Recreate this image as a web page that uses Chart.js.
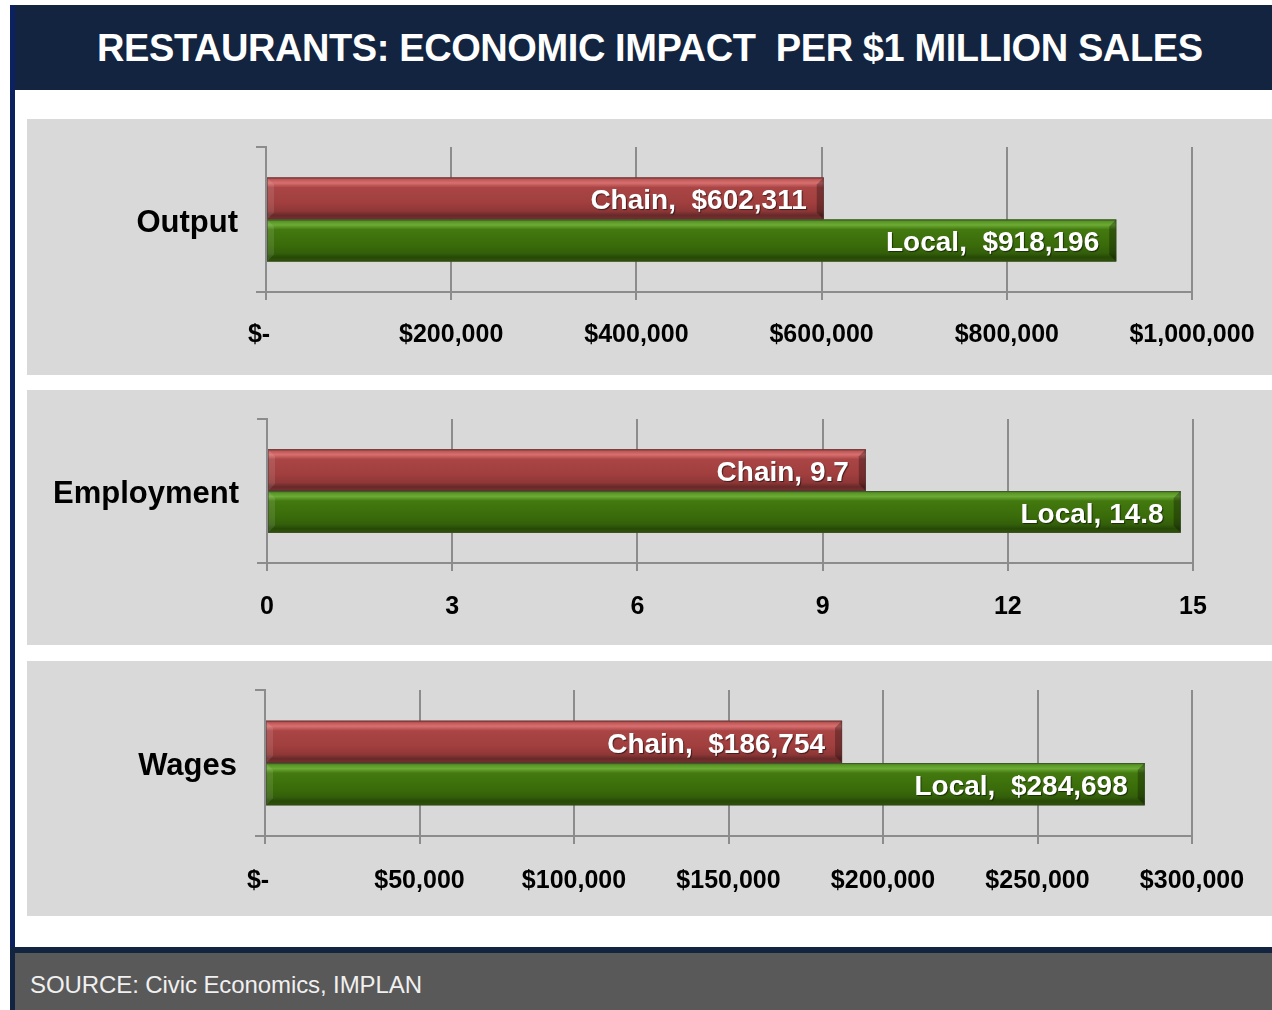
<!DOCTYPE html>
<html>
<head>
<meta charset="utf-8">
<script src="https://cdn.jsdelivr.net/npm/chart.js@4.4.1/dist/chart.umd.min.js"></script>
<style>
  html, body { margin:0; padding:0; background:#ffffff; }
  body { width:1272px; height:1010px; position:relative; overflow:hidden; font-family:"Liberation Sans", Arial, sans-serif; }
  .abs { position:absolute; }
  #leftStrip { left:10px; top:5px; width:5px; height:945px; background:#0b2160; }
  #header { left:10px; top:5px; width:1262px; height:85px; background:#12243f; border-left:5px solid #0b2160; box-sizing:border-box; }
  #title { left:97px; top:26px; color:#ffffff; font-weight:bold; font-size:38px; white-space:nowrap; line-height:44px; }
  .panel { background:#d9d9d9; left:27px; width:1245px; }
  #footerNavy { left:10px; top:947px; width:1262px; height:63px; background:#12243f; }
  #footer { left:15px; top:953px; width:1257px; height:57px; background:#595959; }
  #source { left:30px; top:971px; color:#f0f0f0; font-size:24px; white-space:nowrap; line-height:28px; }
  canvas { display:block; }
</style>
</head>
<body>
<div id="leftStrip" class="abs"></div>
<div id="header" class="abs"></div>
<div id="title" class="abs"><span id="titleText">RESTAURANTS: ECONOMIC IMPACT&nbsp; PER $1 MILLION SALES</span></div>

<div class="abs panel" style="top:119px;height:256px;"><canvas id="c1" width="1245" height="256"></canvas></div>
<div class="abs panel" style="top:390px;height:255px;"><canvas id="c2" width="1245" height="255"></canvas></div>
<div class="abs panel" style="top:661px;height:255px;"><canvas id="c3" width="1245" height="255"></canvas></div>

<div id="footerNavy" class="abs"></div>
<div id="footer" class="abs"></div>
<div id="source" class="abs"><span id="sourceText">SOURCE: Civic Economics, IMPLAN</span></div>

<script>
// ---------- DATA ----------
const seriesNames = ['Chain', 'Local'];

const outputCategory = ['Output'];
const outputChain = [602311];
const outputLocal = [918196];
const outputTicks = ['$-  ', '$200,000', '$400,000', '$600,000', '$800,000', '$1,000,000'];

const employmentCategory = ['Employment'];
const employmentChain = [9.7];
const employmentLocal = [14.8];
const employmentTicks = ['0', '3', '6', '9', '12', '15'];

const wagesCategory = ['Wages'];
const wagesChain = [186754];
const wagesLocal = [284698];
const wagesTicks = ['$-  ', '$50,000', '$100,000', '$150,000', '$200,000', '$250,000', '$300,000'];

// fit title and source text widths to the reference spans
function fitSpan(id, target) {
  const el = document.getElementById(id);
  const n = el.textContent.length;
  const w = el.getBoundingClientRect().width;
  el.style.letterSpacing = ((target - w) / (n - 1)) + 'px';
}
try { fitSpan('titleText', 1106); fitSpan('sourceText', 392); } catch (e) {}

// ---------- HELPERS ----------
const FONT = '"Liberation Sans", Arial, sans-serif';
const money = v => '$' + Math.round(v).toLocaleString('en-US');
const plain = v => String(v);
const labelFormats = {
  c1: { fmt: money, sep: ',  ' },
  c2: { fmt: plain, sep: ', ' },
  c3: { fmt: money, sep: ',  ' }
};

const palettes = {
  Chain: { flat:'#a23f3f', stops:[[0,'#8a3434'],[0.05,'#c05858'],[0.13,'#d87070'],[0.24,'#a94545'],[0.6,'#a13e3e'],[0.8,'#8f3737'],[0.9,'#672929'],[1,'#7a3030']] },
  Local: { flat:'#3b6e0b', stops:[[0,'#3b6a12'],[0.05,'#5a9628'],[0.13,'#6cab35'],[0.24,'#43790f'],[0.6,'#3a6c0a'],[0.8,'#335f0a'],[0.9,'#274907'],[1,'#2e5509']] }
};

const bevelPlugin = {
  id: 'bevelBars',
  afterDatasetsDraw(chart) {
    const ctx = chart.ctx;
    const lf = labelFormats[chart.canvas.id];
    chart.data.datasets.forEach((ds, di) => {
      const meta = chart.getDatasetMeta(di);
      const pal = palettes[ds.label];
      meta.data.forEach((bar, i) => {
        const p = bar.getProps(['x', 'y', 'base', 'height'], true);
        const x0 = Math.min(p.base, p.x), x1 = Math.max(p.base, p.x);
        const top = p.y - p.height / 2, h = p.height;
        ctx.save();
        const g = ctx.createLinearGradient(0, top, 0, top + h);
        pal.stops.forEach(s => g.addColorStop(s[0], s[1]));
        ctx.fillStyle = g;
        ctx.fillRect(x0, top, x1 - x0, h);
        // left bevel (light)
        ctx.beginPath();
        ctx.moveTo(x0, top); ctx.lineTo(x0 + 7, top + 7); ctx.lineTo(x0 + 7, top + h - 7); ctx.lineTo(x0, top + h); ctx.closePath();
        ctx.fillStyle = 'rgba(255,255,255,0.10)';
        ctx.fill();
        // right bevel (dark)
        ctx.beginPath();
        ctx.moveTo(x1, top); ctx.lineTo(x1 - 7, top + 7); ctx.lineTo(x1 - 7, top + h - 7); ctx.lineTo(x1, top + h); ctx.closePath();
        ctx.fillStyle = 'rgba(0,0,0,0.28)';
        ctx.fill();
        ctx.strokeStyle = 'rgba(60,60,60,0.45)';
        ctx.lineWidth = 1;
        ctx.strokeRect(x0 + 0.5, top + 0.5, x1 - x0 - 1, h - 1);
        // label
        const v = ds.data[i];
        ctx.font = 'bold 28px ' + FONT;
        ctx.textAlign = 'right';
        ctx.textBaseline = 'middle';
        ctx.shadowColor = 'rgba(0,0,0,0.55)';
        ctx.shadowOffsetX = 1; ctx.shadowOffsetY = 1; ctx.shadowBlur = 1;
        ctx.fillStyle = '#ffffff';
        ctx.fillText(ds.label + lf.sep + lf.fmt(v), x1 - 17, p.y + 3);
        ctx.restore();
      });
    });
  }
};

function makeChart(id, cats, chain, local, max, step, ticks, geo) {
  new Chart(document.getElementById(id), {
    type: 'bar',
    data: {
      labels: cats,
      datasets: [
        { label: seriesNames[0], data: chain, backgroundColor: palettes.Chain.flat, borderWidth: 0 },
        { label: seriesNames[1], data: local, backgroundColor: palettes.Local.flat, borderWidth: 0 }
      ]
    },
    options: {
      indexAxis: 'y',
      responsive: false,
      animation: false,
      events: [],
      layout: { padding: { left: 0, right: geo.right, top: geo.top, bottom: 0 } },
      categoryPercentage: 0.58,
      barPercentage: 1.0,
      plugins: {
        legend: { display: false },
        tooltip: { enabled: false }
      },
      scales: {
        x: {
          min: 0, max: max,
          ticks: {
            stepSize: step,
            color: '#000000',
            font: { family: FONT, size: 25, weight: 'bold', lineHeight: 1.84 },
            padding: geo.xpad,
            maxRotation: 0,
            autoSkip: false,
            callback: (value, index) => ticks[index]
          },
          grid: { color: '#8c8c8c', lineWidth: 2, drawTicks: true, tickLength: 8, tickColor: '#8c8c8c' },
          border: { display: true, color: '#8c8c8c', width: 2 },
          afterFit: s => { s.height = geo.xh; }
        },
        y: {
          ticks: {
            color: '#000000',
            font: { family: FONT, size: 31, weight: 'bold', lineHeight: 0.23 },
            padding: 18,
            callback: function (value) { return [' ', this.getLabelForValue(value)]; }
          },
          grid: { drawOnChartArea: false, drawTicks: true, tickLength: 10, color: '#8c8c8c', lineWidth: 2, offset: true },
          border: { display: true, color: '#8c8c8c', width: 2 },
          afterFit: s => { s.width = geo.yw; }
        }
      }
    },
    plugins: [bevelPlugin]
  });
}

makeChart('c1', outputCategory, outputChain, outputLocal, 1000000, 200000, outputTicks,
  { right: 80, top: 28, xh: 83, yw: 239, xpad: 12 });
makeChart('c2', employmentCategory, employmentChain, employmentLocal, 15, 3, employmentTicks,
  { right: 79, top: 29, xh: 82, yw: 240, xpad: 13 });
makeChart('c3', wagesCategory, wagesChain, wagesLocal, 300000, 50000, wagesTicks,
  { right: 80, top: 29, xh: 80, yw: 238, xpad: 14 });
</script>
</body>
</html>
